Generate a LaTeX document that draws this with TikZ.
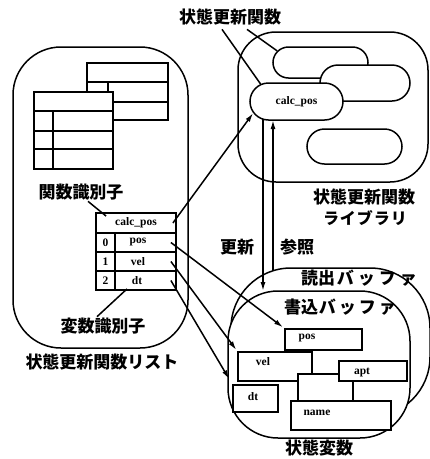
\documentclass[tikz,border=0pt]{standalone}
\usepackage{fontspec}
\setmainfont{Liberation Serif}
\newfontfamily\jp{Noto Sans CJK JP}
\usetikzlibrary{shapes.misc,arrows.meta,calc}
\begin{document}
\begin{tikzpicture}[x=1pt,y=-1pt,
  region/.style={draw,line width=1.5pt,fill=white,inner sep=0pt},
  pill/.style={draw,rounded rectangle,line width=1.5pt,fill=white,inner sep=0pt},
  cell/.style={draw,line width=1.8pt,fill=white,inner sep=0pt,font=\fontsize{11.5}{11.5}\selectfont\bfseries},
  tbl/.style={line width=1.8pt},
  box/.style={draw,line width=1.5pt,fill=white,inner sep=0pt},
  small/.style={font=\fontsize{11.5}{11.5}\selectfont\bfseries,inner sep=0pt},
  jlabel/.style={font=\jp\bfseries\fontsize{17}{17}\selectfont,inner sep=0pt},
  arr/.style={line width=1.5pt,-{Latex[length=9pt,width=5pt]}},
  conn/.style={line width=1.5pt}
]
\useasboundingbox (0,0) rectangle (430,459);

% ---- left: function list region
\node[region,rounded corners=48pt,minimum width=175pt,minimum height=301pt] (list) at (100.5,197.5) {};
\draw[tbl] (87,63) rectangle (168,120);
\draw[tbl] (87,82) -- (168,82);
\draw[tbl] (87,102) -- (168,102);
\draw[tbl] (108,82) -- (108,102);
\filldraw[tbl,fill=white] (34,92) rectangle (113,169);
\draw[tbl] (34,111) -- (113,111);
\draw[tbl] (34,131) -- (113,131);
\draw[tbl] (34,149) -- (113,149);
\draw[tbl] (53,111) -- (53,169);

% main table
\node[cell,minimum width=80pt,minimum height=20pt] (rcalc) at (136,223) {calc\_pos};
\node[cell,minimum width=19pt,minimum height=19pt] (n0) at (105.5,242.5) {0};
\node[cell,minimum width=61pt,minimum height=19pt] (v0) at (145.5,242.5) {};
\node[cell,minimum width=19pt,minimum height=19pt] (n1) at (105.5,261.5) {1};
\node[cell,minimum width=61pt,minimum height=19pt] (v1) at (145.5,261.5) {};
\node[cell,minimum width=19pt,minimum height=19pt] (n2) at (105.5,280.5) {2};
\node[cell,minimum width=61pt,minimum height=19pt] (v2) at (145.5,280.5) {};
\node[small] (t0) at (138,242.5) {pos};
\node[small] (t1) at (138,261.5) {vel};
\node[small] (t2) at (137,280.5) {dt};

\node[jlabel] (lblfunc) at (81,192) {関数識別子};
\node[jlabel] (lblvar) at (103,326) {変数識別子};
\node[jlabel] (lbllist) at (102,362) {状態更新関数リスト};
\draw[conn] ($(lblfunc.south)+(7,1)$) -- ($(rcalc.north west)+(11,4)$);
\draw[conn] ($(lblvar.north)+(-6,-1)$) -- ($(v2.south)+(-18.5,-2)$);

% ---- right top: library
\node[region,rounded corners=38pt,minimum width=190pt,minimum height=150pt] (lib) at (333,107) {};
\node[pill,minimum width=95pt,minimum height=31pt] (pill1) at (320.5,62.5) {};
\node[pill,minimum width=90pt,minimum height=36pt] (pill2) at (365,83) {};
\node[pill,minimum width=93pt,minimum height=37pt,font=\fontsize{11.5}{11.5}\selectfont\bfseries] (calcpill) at (296.5,101.5) {calc\_pos};
\node[pill,minimum width=95pt,minimum height=35pt] (pill4) at (354.5,146.5) {};
\node[jlabel] (lbltop) at (230,17) {状態更新関数};
\draw[conn] ($(lbltop.south)+(-8,4)$) -- (calcpill.154);
\draw[conn] ($(lbltop.south)+(17,4)$) -- (pill1.165);
\node[jlabel] (lbllib) at (364,197) {状態更新関数};
\node[jlabel,font=\jp\bfseries\fontsize{16}{16}\selectfont] (lbllib2) at (365,218) {ラ\kern1ptイ\kern1ptブ\kern1ptラ\kern1ptリ};

% ---- bottom right: state variables
\node[region,rounded corners=60pt,minimum width=199pt,minimum height=149pt] (readbuf) at (330.5,342.5) {};
\node[region,rounded corners=50pt,minimum width=182pt,minimum height=147pt] (writebuf) at (319,364.5) {};
\node[jlabel] (lblread) at (359,278) {読出\kern2ptバ\kern4ptッ\kern4ptフ\kern4ptァ};
\node[jlabel] (lblwrite) at (340,307) {書込\kern1ptバ\kern3ptッ\kern3ptフ\kern3ptァ};
\node[jlabel] (lblstate) at (319,448) {状態変数};

\node[box,minimum width=77pt,minimum height=21pt] (posbox) at (323.5,339.5) {};
\node[box,minimum width=74pt,minimum height=29pt] (velbox) at (275,366.5) {};
\node[box,minimum width=55pt,minimum height=27pt] (blankbox) at (325.5,387.5) {};
\node[box,minimum width=68pt,minimum height=20pt] (aptbox) at (373,371) {};
\node[box,minimum width=100pt,minimum height=29pt] (namebox) at (341,415.5) {};
\node[box,minimum width=45pt,minimum height=27pt] (dtbox) at (255.5,398.5) {};
\node[small] (tpos) at (307,338) {pos};
\node[small] (tvel) at (263,362) {vel};
\node[small] (tapt) at (362,372) {apt};
\node[small] (tname) at (317,413) {name};
\node[small] (tdt) at (253,397) {dt};

% ---- update / reference
\coordinate (updtop) at (263,119);
\coordinate (updend) at (263,291);
\coordinate (reftop) at (273,120);
\coordinate (refstart) at (273,271);
\draw[arr] (updtop) -- (updend);
\draw[arr] (refstart) -- (reftop);
\node[jlabel] (lblupd) at (237,247) {更新};
\node[jlabel] (lblref) at (297,247) {参照};

% ---- arrows from table
\draw[arr] ($(rcalc.east)+(-4,0)$) -- (calcpill.195);
\draw[arr,shorten >=1.5pt] ($(v0.east)+(-6,0)$) -- (posbox.north west);
\draw[arr,shorten >=1.5pt] ($(v1.east)+(-6,0)$) -- (velbox.north west);
\draw[arr,shorten >=6pt] ($(v2.east)+(-6,0)$) -- (dtbox.north west);
\end{tikzpicture}
\end{document}
